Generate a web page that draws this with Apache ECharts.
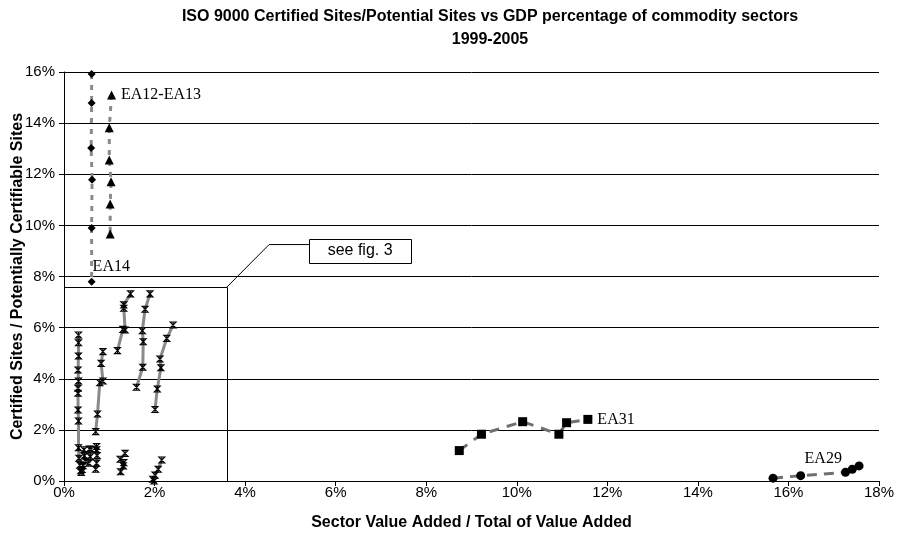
<!DOCTYPE html>
<html>
<head>
<meta charset="utf-8">
<script src="https://cdn.jsdelivr.net/npm/echarts@6/dist/echarts.min.js"></script>
<style>
  html, body { margin: 0; padding: 0; background: #fff; }
  #chart { width: 899px; height: 534px; }
</style>
</head>
<body>
<div id="chart"></div>
<script>
// Sector share of total value added (%) vs certified / certifiable sites (%), one point per year.
const ea14   = [[0.61, 15.92], [0.61, 14.79], [0.60, 13.03], [0.62, 11.78], [0.61, 9.90], [0.61, 7.79]];
const ea1213 = [[1.05, 15.10], [1.00, 13.82], [1.00, 12.56], [1.04, 11.71], [1.02, 10.84], [1.02, 9.66]];
const ea31   = [[8.73, 1.19], [9.22, 1.83], [10.13, 2.32], [10.93, 1.83], [11.10, 2.28], [11.57, 2.41]];
const ea29   = [[15.66, 0.11], [16.27, 0.21], [17.26, 0.34], [17.41, 0.46], [17.56, 0.59]];

// Smaller sectors (detailed in fig. 3)
const smallA = [[0.32, 5.71], [0.32, 5.41], [0.32, 4.89], [0.31, 4.34], [0.32, 3.91], [0.31, 3.63],
                [0.31, 3.43], [0.31, 2.78], [0.32, 2.35], [0.32, 1.30], [0.33, 0.89], [0.35, 0.62], [0.37, 0.40]];
const smallB = [[0.44, 1.22], [0.45, 0.98], [0.47, 0.78], [0.42, 0.60], [0.40, 0.45], [0.38, 0.33]];
const smallC = [[0.56, 1.25], [0.60, 1.24], [0.58, 0.95], [0.55, 0.70]];
const smallD = [[0.72, 1.35], [0.72, 1.22], [0.73, 1.00], [0.72, 0.70], [0.70, 0.46]];
const smallE = [[0.70, 1.93], [0.74, 2.62], [0.79, 3.85], [0.86, 3.91], [0.82, 4.60], [0.86, 5.06]];
const smallF = [[1.18, 5.10], [1.30, 5.93], [1.35, 5.91], [1.32, 6.76], [1.32, 6.89], [1.47, 7.32]];
const smallG = [[1.60, 3.67], [1.74, 4.45], [1.75, 5.45], [1.73, 5.88], [1.79, 6.72], [1.90, 7.32]];
const smallH = [[2.01, 2.80], [2.06, 3.60], [2.14, 4.43], [2.12, 4.77], [2.27, 5.58], [2.41, 6.10]];
const smallI = [[1.35, 1.08], [1.24, 0.85], [1.32, 0.72], [1.31, 0.59], [1.25, 0.36]];
const smallJ = [[2.16, 0.82], [2.08, 0.46], [2.01, 0.23], [1.96, 0.07], [1.99, 0.00]];
const smallSectors = [smallA, smallB, smallC, smallD, smallE, smallF, smallG, smallH, smallI, smallJ];

// Axis ranges and tick steps (percent)
const xRange = [0, 18], xStep = 2;
const yRange = [0, 16], yStep = 2;

// Annotation: zoomed region and its call-out (in axis units)
const zoomBox = [[0, 7.59], [3.60, 0]];
const leader = [[3.60, 7.59], [4.53, 9.25], [5.41, 9.25]];
const noteBox = [[5.41, 9.47], [7.67, 8.52]];
const noteText = 'see fig. 3';

const SANS = "'Liberation Sans', Arial, sans-serif";
const SERIF = "'Liberation Serif', 'Times New Roman', serif";

const chart = echarts.init(document.getElementById('chart'), null, { renderer: 'canvas' });

const starPath = 'path://M0,0 L10,0 L0,10 L10,10 Z M5,0 L5,10';

function labelled(points, idx, text, pos) {
  return points.map((p, i) => i === idx
    ? { value: p, label: { show: true, formatter: text, position: pos, color: '#000', fontFamily: SERIF, fontSize: 16 } }
    : { value: p });
}

const series = [];

smallSectors.forEach(pts => {
  series.push({
    type: 'line', data: pts, symbol: starPath, symbolSize: [6, 6],
    lineStyle: { color: '#8a8a8a', width: 3 },
    itemStyle: { color: 'rgba(0,0,0,0)', borderColor: '#000', borderWidth: 1.1 },
    z: 3, animation: false
  });
});

series.push({
  name: 'EA14', type: 'line', data: labelled(ea14, 5, 'EA14', [5, -19]),
  symbol: 'diamond', symbolSize: 8,
  lineStyle: { color: '#8a8a8a', width: 3, type: [5, 6] },
  itemStyle: { color: '#000' }, z: 4, animation: false
});
series.push({
  name: 'EA12-EA13', type: 'line', data: labelled(ea1213, 0, 'EA12-EA13', 'right'),
  symbol: 'triangle', symbolSize: 9,
  lineStyle: { color: '#8a8a8a', width: 3, type: [5, 6] },
  itemStyle: { color: '#000' }, z: 4, animation: false
});
series.push({
  name: 'EA31', type: 'line', data: labelled(ea31, 5, 'EA31', 'right'),
  symbol: 'rect', symbolSize: 9,
  lineStyle: { color: '#707070', width: 3, type: [10, 8] },
  itemStyle: { color: '#000' }, z: 4, animation: false
});
series.push({
  name: 'EA29', type: 'line', data: labelled(ea29, 4, 'EA29', [-50, -11]),
  symbol: 'circle', symbolSize: 9,
  lineStyle: { color: '#707070', width: 3, type: [10, 7] },
  itemStyle: { color: '#000' }, z: 4, animation: false
});

chart.setOption({
  animation: false,
  backgroundColor: '#fff',
  title: {
    text: 'ISO 9000 Certified Sites/Potential Sites vs GDP percentage of commodity sectors\n1999-2005',
    left: 485, top: 0, textAlign: 'center',
    textStyle: { fontFamily: SANS, fontSize: 16, fontWeight: 'bold', color: '#000', lineHeight: 23 }
  },
  grid: { left: 64, right: 20, top: 72, bottom: 53, containLabel: false, outerBoundsMode: 'none' },
  xAxis: {
    type: 'value', min: xRange[0], max: xRange[1], interval: xStep,
    name: 'Sector Value Added / Total of Value Added', nameLocation: 'middle', nameGap: 34,
    nameMoveOverlap: false,
    nameTextStyle: { fontFamily: SANS, fontSize: 16, fontWeight: 'bold', color: '#000' },
    axisLine: { show: true, onZero: false, lineStyle: { color: '#000', width: 1 } },
    axisTick: { show: true, inside: false, length: 5, lineStyle: { color: '#000' } },
    axisLabel: { formatter: '{value}%', fontFamily: SANS, fontSize: 15, color: '#000', margin: 4 },
    splitLine: { show: false }
  },
  yAxis: {
    type: 'value', min: yRange[0], max: yRange[1], interval: yStep,
    name: 'Certified Sites / Potentially Certifiable Sites', nameLocation: 'middle', nameGap: 38, nameRotate: 90,
    nameMoveOverlap: false,
    nameTextStyle: { fontFamily: SANS, fontSize: 16, fontWeight: 'bold', color: '#000' },
    axisLine: { show: true, lineStyle: { color: '#000', width: 1 } },
    axisTick: { show: true, inside: false, length: 5, lineStyle: { color: '#000' } },
    axisLabel: { formatter: '{value}%', fontFamily: SANS, fontSize: 15, color: '#000', margin: 9 },
    splitLine: { show: true, lineStyle: { color: '#000', width: 1 } }
  },
  series: series
});

// Call-out drawn in pixel space from axis coordinates
function px(p) { return chart.convertToPixel({ gridIndex: 0 }, p); }
const zb0 = px(zoomBox[0]), zb1 = px(zoomBox[1]);
const nb0 = px(noteBox[0]), nb1 = px(noteBox[1]);
chart.setOption({
  graphic: [
    {
      type: 'rect', z: 10,
      shape: { x: Math.round(zb0[0]) + 0.5, y: Math.round(zb0[1]) + 0.5, width: Math.round(zb1[0] - zb0[0]), height: Math.round(zb1[1] - zb0[1]) },
      style: { fill: 'none', stroke: '#000', lineWidth: 1 }
    },
    {
      type: 'polyline', z: 10,
      shape: { points: leader.map(px) },
      style: { fill: 'none', stroke: '#000', lineWidth: 1 }
    },
    {
      type: 'rect', z: 10,
      shape: { x: Math.round(nb0[0]) + 0.5, y: Math.round(nb0[1]) + 0.5, width: Math.round(nb1[0] - nb0[0]), height: Math.round(nb1[1] - nb0[1]) },
      style: { fill: '#fff', stroke: '#000', lineWidth: 1 }
    },
    {
      type: 'text', z: 11,
      x: (nb0[0] + nb1[0]) / 2, y: (nb0[1] + nb1[1]) / 2,
      style: { text: noteText, font: '16px ' + SANS, fill: '#000', align: 'center', verticalAlign: 'middle' }
    }
  ]
});
</script>
</body>
</html>
